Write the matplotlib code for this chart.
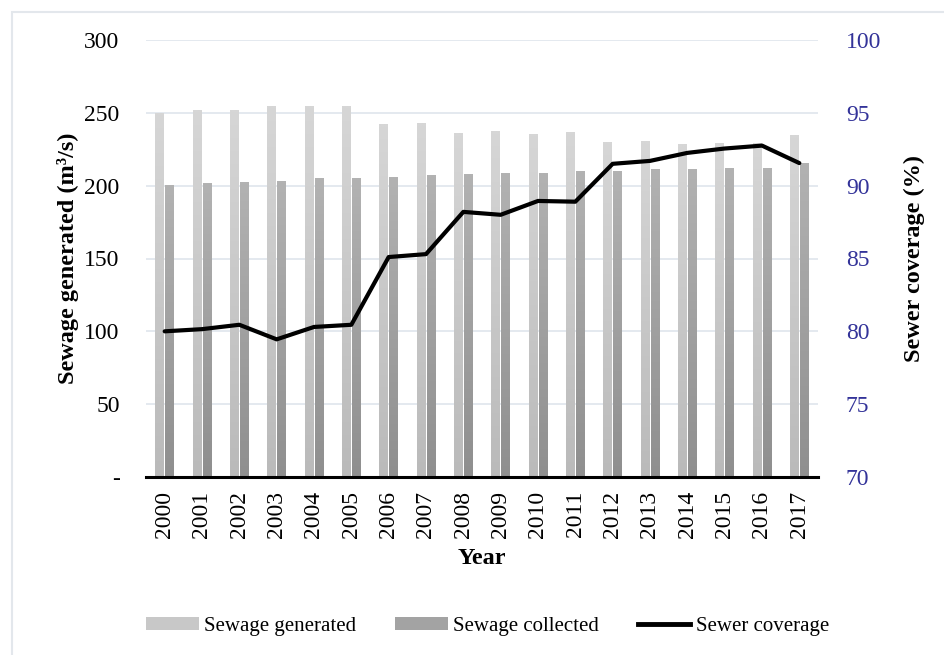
import numpy as np
import matplotlib
matplotlib.use("Agg")
import matplotlib.pyplot as plt
from matplotlib.patches import Rectangle, Patch
from matplotlib.lines import Line2D

plt.rcParams['font.family'] = ['Liberation Serif', 'DejaVu Serif']
plt.rcParams['font.size'] = 17

years = [str(y) for y in range(2000, 2018)]
generated = [250, 252, 252, 255, 255, 255, 242, 243, 236, 237.5, 235.5,
             237, 230, 230.5, 228.5, 229, 229, 234.5]
collected = [200.5, 202, 202.5, 203, 205, 205, 206, 207, 208, 209, 209,
             210, 210, 211.5, 211.5, 212, 212, 215.5]
coverage = [80.0, 80.15, 80.45, 79.45, 80.3, 80.45, 85.1, 85.3, 88.2, 88.0,
            88.95, 88.9, 91.5, 91.7, 92.25, 92.55, 92.75, 91.55]

left_ticks = [0, 50, 100, 150, 200, 250, 300]
left_labels = ['-', '50', '100', '150', '200', '250', '300']
right_ticks = [70, 75, 80, 85, 90, 95, 100]

fig = plt.figure(figsize=(9.45, 6.55), dpi=100)
ax = fig.add_axes([146/945, 1-477/655, 672/945, 437/655])

# light outer frame of the figure
fig.add_artist(Rectangle((12/945, -0.1), 1.2, 1-12/655+0.1, transform=fig.transFigure,
                         fill=False, edgecolor='#e3e7ec', linewidth=1.5))

x = np.arange(len(years))
w = 0.235


def gradient_bars(ax, xs, heights, top_col, bot_col):
    bars = ax.bar(xs, heights, w, color='none', edgecolor='none', zorder=2)
    grad = np.linspace(0, 1, 64).reshape(-1, 1)
    top = np.array(matplotlib.colors.to_rgb(top_col))
    bot = np.array(matplotlib.colors.to_rgb(bot_col))
    img = top[None, None, :] * (1 - grad[:, :, None]) + bot[None, None, :] * grad[:, :, None]
    for b in bars:
        x0, y0 = b.get_x(), b.get_y()
        im = ax.imshow(img, extent=(x0, x0 + b.get_width(), y0, y0 + b.get_height()),
                       aspect='auto', origin='upper', zorder=2, interpolation='bilinear')
        im.set_clip_path(b)
    return bars


gradient_bars(ax, x - w/2 - 0.015, generated, '#d6d6d6', '#bababa')
gradient_bars(ax, x + w/2 + 0.015, collected, '#b2b2b2', '#8f8f8f')

ax.set_xlim(-0.5, len(years) - 0.5)
ax.set_ylim(0, 300)
ax.set_yticks(left_ticks)
ax.set_yticklabels(left_labels)
ax.set_xticks(x)
ax.set_xticklabels(years, rotation=90)
ax.tick_params(axis='both', length=0, labelsize=17)
ax.tick_params(axis='x', pad=10)
ax.tick_params(axis='y', pad=19)
ax.grid(axis='y', color='#dfe5ec', linewidth=1.2, zorder=0)
ax.set_axisbelow(True)
for s in ['top', 'right', 'left']:
    ax.spines[s].set_visible(False)
ax.spines['bottom'].set_linewidth(2.2)
ax.spines['bottom'].set_zorder(5)
ax.set_ylabel('Sewage generated (m³/s)', fontweight='bold', fontsize=17.5, labelpad=4)
ax.set_xlabel('Year', fontweight='bold', fontsize=17.5, labelpad=7)

ax2 = ax.twinx()
ax2.plot(x, coverage, color='black', linewidth=3, zorder=4, solid_capstyle='round')
ax2.set_ylim(70, 100)
ax2.set_yticks(right_ticks)
ax2.tick_params(axis='y', length=0, pad=20, labelsize=17, labelcolor='#333399')
for s in ['top', 'right', 'left', 'bottom']:
    ax2.spines[s].set_visible(False)
ax2.set_ylabel('Sewer coverage (%)', fontweight='bold', fontsize=17.5, labelpad=16)

handles = [Patch(facecolor='#c8c8c8', edgecolor='none'),
           Patch(facecolor='#a3a3a3', edgecolor='none'),
           Line2D([0], [0], color='black', linewidth=3.5)]
fig.legend(handles, ['Sewage generated', 'Sewage collected', 'Sewer coverage'],
           loc='center', bbox_to_anchor=(0.516, 1-626/655), ncol=3, frameon=False,
           fontsize=15, handlelength=2.5, handleheight=0.6, handletextpad=0.25,
           columnspacing=1.9)

fig.savefig('out.png', dpi=100)
